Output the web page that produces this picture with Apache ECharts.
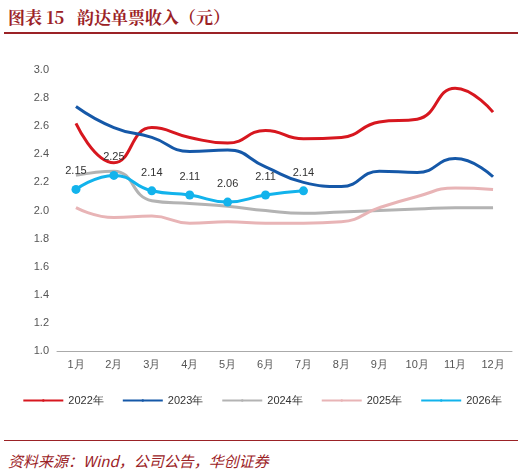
<!DOCTYPE html>
<html><head><meta charset="utf-8">
<script src="https://cdn.jsdelivr.net/npm/echarts@6/dist/echarts.min.js"></script>
<style>body{margin:0;background:#fff;font-family:"Noto Sans CJK SC";}
#t{position:absolute;left:8px;top:4px;font-size:17px;font-weight:bold;color:#9b2226;font-family:"Noto Serif CJK SC","Noto Sans CJK SC";}
#l1{position:absolute;left:4px;top:32px;width:514px;height:2px;background:#9b2226;}
#l2{position:absolute;left:4px;top:440px;width:514px;height:1px;background:#9b2226;}
#s{position:absolute;left:8px;top:450px;font-size:15px;font-style:italic;color:#9b2226;}
#c{position:absolute;left:0;top:40px;width:524px;height:395px;}</style></head>
<body><div id="t">图表 15 &nbsp; 韵达单票收入（元）</div><div id="l1"></div>
<div id="c"></div><div id="l2"></div><div id="s">资料来源：Wind，公司公告，华创证券</div>
<script>
const months=['1月','2月','3月','4月','5月','6月','7月','8月','9月','10月','11月','12月'];
const y2022=[2.62,2.34,2.59,2.52,2.48,2.57,2.51,2.52,2.63,2.65,2.87,2.70];
const y2023=[2.74,2.59,2.52,2.42,2.43,2.31,2.20,2.17,2.28,2.27,2.37,2.24];
const y2024=[2.25,2.28,2.07,2.05,2.03,2.00,1.98,1.99,2.00,2.01,2.02,2.02];
const y2025=[2.02,1.95,1.96,1.91,1.92,1.91,1.91,1.92,2.02,2.10,2.16,2.15];
const y2026=[2.15,2.25,2.14,2.11,2.06,2.11,2.14];
const c=echarts.init(document.getElementById('c'));
const ln=(n,d,col)=>({name:n,type:'line',data:d,smooth:true,symbol:'none',lineStyle:{width:3,color:col},itemStyle:{color:col}});
c.setOption({animation:false,
grid:{left:57,right:12,top:30,bottom:84},
legend:{bottom:24,itemWidth:40,itemHeight:3,itemGap:18,textStyle:{fontSize:11,color:'#333'},
 data:['2022年','2023年','2024年','2025年','2026年']},
xAxis:{type:'category',data:months,axisLine:{lineStyle:{color:'#aaa'}},axisTick:{show:false},axisLabel:{fontSize:11,color:'#555'}},
yAxis:{type:'value',min:1.0,max:3.0,interval:0.2,splitLine:{show:false},axisLabel:{fontSize:11,color:'#555',formatter:v=>v.toFixed(1)}},
series:[ln('2022年',y2022,'#d7171f'),ln('2023年',y2023,'#1558a8'),ln('2024年',y2024,'#b3b3b3'),ln('2025年',y2025,'#e8b4b6'),
{name:'2026年',type:'line',data:y2026,smooth:true,symbol:'circle',symbolSize:9,lineStyle:{width:3,color:'#12b3ec'},itemStyle:{color:'#12b3ec'},
 label:{show:true,position:'top',distance:8,fontSize:11,color:'#333',formatter:p=>p.value.toFixed(2)}}]});
</script></body></html>
